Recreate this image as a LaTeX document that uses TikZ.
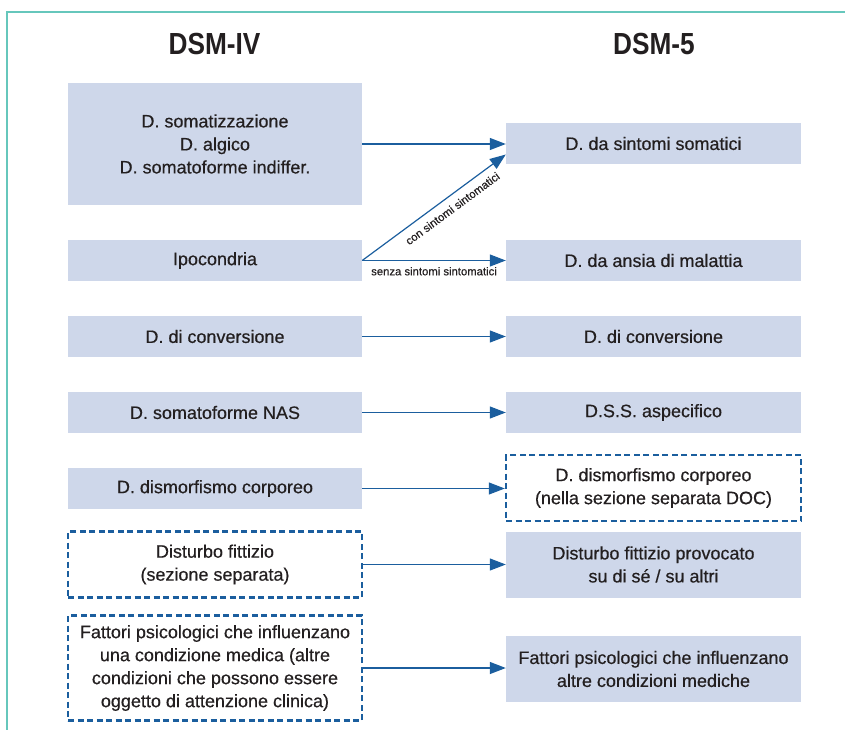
\documentclass[tikz,border=0pt]{standalone}
\usepackage{fontspec}
\setmainfont{Liberation Sans}[FakeBold=0.5]
\newfontfamily\headfont{Liberation Sans}[FakeStretch=0.86]
\usetikzlibrary{arrows.meta}
\definecolor{boxfill}{RGB}{206,215,234}
\definecolor{arrowblue}{RGB}{27,94,158}
\definecolor{frameteal}{RGB}{102,199,188}
\definecolor{txt}{RGB}{35,31,32}
\tikzset{
    box/.style={fill=boxfill, minimum width=294pt, minimum height=41pt, inner sep=0pt,
        align=center, text=txt, font=\fontsize{18}{23}\selectfont},
    dbox/.style={box, fill=none, draw=arrowblue, line width=2.4pt, dash pattern=on 6pt off 3.5pt},
    conn/.style={arrowblue, line width=1.2pt, -{Triangle[length=16pt,width=12pt]}},
    lbl/.style={text=txt, font=\fontsize{11.3}{13}\selectfont, inner sep=3pt},
    head/.style={text=txt, font=\headfont\bfseries\fontsize{30.5}{31}\selectfont, anchor=base}
}
\begin{document}
\begin{tikzpicture}[x=1pt, y=-1pt]
\useasboundingbox (0,0) rectangle (845,730);
\draw[frameteal, line width=1.5pt] (7,730) -- (7,12) -- (845,12);

\node[head] (hIV) at (214.5,55) {DSM-IV};
\node[head] (h5) at (654,55) {DSM-5};

% DSM-IV
\node[box, minimum height=122pt] (l1) at (215,144) {D. somatizzazione\\D. algico\\D. somatoforme indiffer.};
\node[box] (l2) at (215,260.5) {Ipocondria};
\node[box] (l3) at (215,336.5) {D. di conversione};
\node[box] (l4) at (215,412.5) {D. somatoforme NAS};
\node[box] (l5) at (215,488.5) {D. dismorfismo corporeo};
\node[dbox, minimum height=66pt] (l6) at (215,564.5) {Disturbo fittizio\\(sezione separata)};
\node[dbox, minimum height=105pt] (l7) at (215,668) {Fattori psicologici che influenzano\\una condizione medica (altre\\condizioni che possono essere\\oggetto di attenzione clinica)};

% DSM-5
\node[box, minimum width=295pt] (r1) at (653.5,143.5) {D. da sintomi somatici};
\node[box, minimum width=295pt] (r2) at (653.5,260.5) {D. da ansia di malattia};
\node[box, minimum width=295pt] (r3) at (653.5,336.5) {D. di conversione};
\node[box, minimum width=295pt] (r4) at (653.5,412.5) {D.S.S. aspecifico};
\node[dbox, minimum width=295pt, minimum height=66pt] (r5) at (653.5,488) {D. dismorfismo corporeo\\(nella sezione separata DOC)};
\node[box, minimum width=295pt, minimum height=66pt] (r6) at (653.5,564.5) {Disturbo fittizio provocato\\su di s\'e / su altri};
\node[box, minimum width=295pt, minimum height=66pt] (r7) at (653.5,669) {Fattori psicologici che influenzano\\altre condizioni mediche};

% frecce
\draw[conn] (l1.east) -- (l1.east -| r1.west);
\draw[conn] (l2.east) -- ([yshift=-11pt]r1.west) node[lbl, sloped, below=4pt, pos=0.58] {con sintomi sintomatici};
\draw[conn] (l2.east) -- (l2.east -| r2.west) node[lbl, below=3pt, midway] {senza sintomi sintomatici};
\draw[conn] (l3.east) -- (l3.east -| r3.west);
\draw[conn] (l4.east) -- (l4.east -| r4.west);
\draw[conn] (l5.east) -- (l5.east -| r5.west);
\draw[conn] (l6.east) -- (l6.east -| r6.west);
\draw[conn] (l7.east) -- (l7.east -| r7.west);
\end{tikzpicture}
\end{document}
